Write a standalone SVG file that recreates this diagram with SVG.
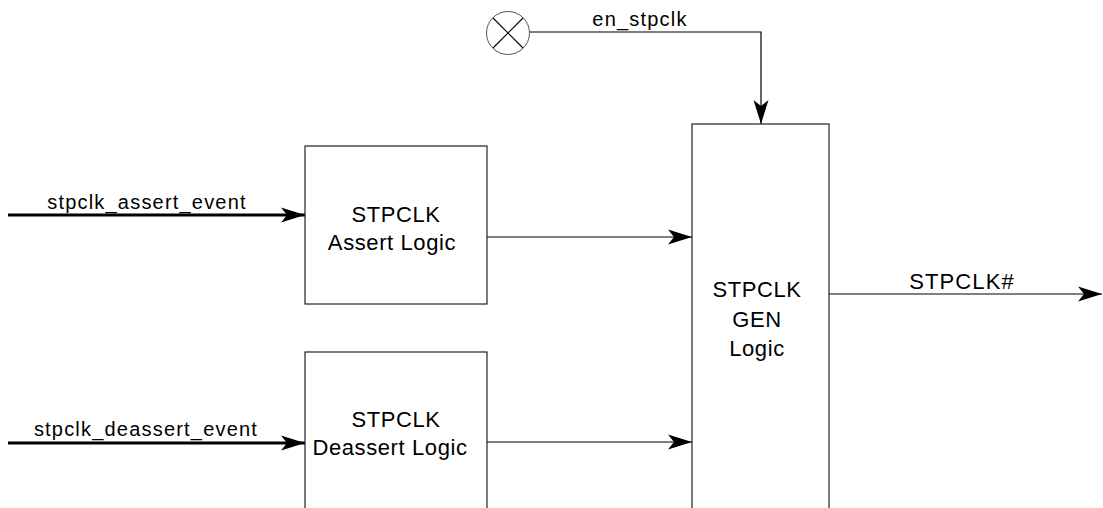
<svg xmlns="http://www.w3.org/2000/svg" width="1103" height="508" viewBox="0 0 1103 508">
<style>
.box{fill:#fff;stroke:#222;stroke-width:1.2}
.lbl{font-family:"Liberation Sans",Arial,sans-serif;font-size:22px;letter-spacing:0.6px;fill:#000;text-anchor:middle}
.sig{font-family:"Liberation Sans",Arial,sans-serif;font-size:20px;letter-spacing:1.2px;fill:#000;text-anchor:middle}
.thin{fill:none;stroke:#000;stroke-width:1.2}
.thick{fill:none;stroke:#000;stroke-width:3.2}
</style>
<defs>
<marker id="ah" markerUnits="userSpaceOnUse" viewBox="-25 -8 26 16" refX="0" refY="0" markerWidth="26" markerHeight="16" orient="auto">
<path d="M0,0 L-24,-7.5 L-18,0 L-24,7.5 Z" fill="#000"/>
</marker>
</defs>
<rect width="1103" height="508" fill="#fff"/>
<g id="connectors">
<path class="thin" d="M530,32 H761 V124" marker-end="url(#ah)"/>
<path class="thick" d="M8,215 H305" marker-end="url(#ah)"/>
<path class="thick" d="M8,443 H305" marker-end="url(#ah)"/>
<path class="thin" d="M487,237 H692" marker-end="url(#ah)"/>
<path class="thin" d="M487,442 H692" marker-end="url(#ah)"/>
<path class="thin" d="M829,294 H1102" marker-end="url(#ah)"/>
<text class="sig" x="640" y="26">en_stpclk</text>
<text class="sig" x="147" y="209">stpclk_assert_event</text>
<text class="sig" x="146" y="436">stpclk_deassert_event</text>
<text class="lbl" x="962" y="289" style="letter-spacing:1.1px">STPCLK#</text>
</g>
<g id="en_source">
<circle cx="508" cy="33" r="21.5" fill="#fff" stroke="#555" stroke-width="1"/>
<path d="M493,18 L523,48 M523,18 L493,48" stroke="#000" stroke-width="1.2"/>
</g>
<g id="assert_logic">
<rect class="box" x="305" y="146" width="182" height="158"/>
<text class="lbl" x="396" y="222">STPCLK</text>
<text class="lbl" x="392" y="250">Assert Logic</text>
</g>
<g id="deassert_logic">
<rect class="box" x="305" y="352" width="182" height="170"/>
<text class="lbl" x="396" y="427">STPCLK</text>
<text class="lbl" x="390" y="455">Deassert Logic</text>
</g>
<g id="gen_logic">
<rect class="box" x="692" y="124" width="137" height="400"/>
<text class="lbl" x="757" y="297">STPCLK</text>
<text class="lbl" x="757" y="327">GEN</text>
<text class="lbl" x="757" y="356">Logic</text>
</g>
</svg>
